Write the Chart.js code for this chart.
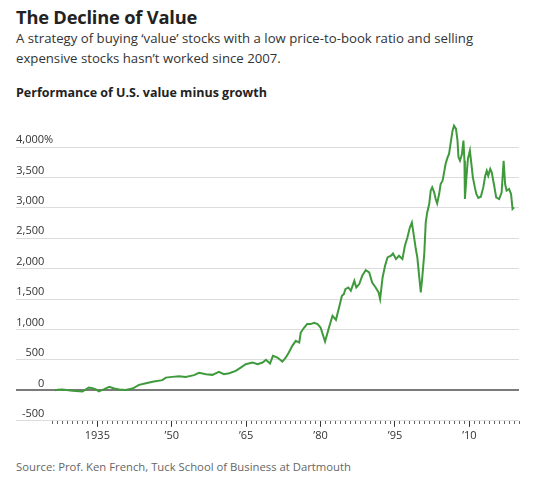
<!DOCTYPE html>
<html>
<head>
<meta charset="utf-8">
<script src="https://cdn.jsdelivr.net/npm/chart.js@4.4.1/dist/chart.umd.min.js"></script>
<style>
  html, body { margin: 0; padding: 0; background: #fff; }
  body { width: 540px; height: 480px; position: relative; overflow: hidden; font-family: "Open Sans", "Noto Sans", sans-serif; color: #222; }
  .title { position: absolute; left: 16px; top: 4px; font-size: 18.3px; font-weight: 700; letter-spacing: -0.2px; color: #222; }
  .dek { position: absolute; left: 16px; top: 28px; font-size: 13.2px; line-height: 20px; color: #333; }
  .sub { position: absolute; left: 16px; top: 84px; font-size: 12.5px; font-weight: 700; color: #222; }
  .source { position: absolute; left: 16px; top: 459px; font-size: 11.3px; color: #666; }
  #chart { position: absolute; left: 0; top: 110px; }
</style>
</head>
<body>
<div class="title">The Decline of Value</div>
<div class="dek">A strategy of buying ‘value’ stocks with a low price-to-book ratio and selling<br>expensive stocks hasn’t worked since 2007.</div>
<div class="sub">Performance of U.S. value minus growth</div>
<canvas id="chart" width="540" height="340"></canvas>
<div class="source">Source: Prof. Ken French, Tuck School of Business at Dartmouth</div>
<script>
// roughly every half year
const years = [1926.5, 1927.0, 1927.9, 1930.0, 1932.0, 1932.7, 1933.3, 1934.0, 1934.7, 1935.3,
    1936.4, 1937.4, 1938.4, 1939.4, 1940.7, 1942.1, 1943.4, 1944.8, 1946.4, 1948.1,
    1948.8, 1950.1, 1951.5, 1952.8, 1954.5, 1955.5, 1956.9, 1958.2, 1959.5, 1960.5,
    1961.6, 1962.9, 1963.9, 1964.9, 1966.3, 1967.3, 1968.3, 1969.0, 1969.8, 1970.4,
    1971.3, 1972.3, 1973.0, 1973.6, 1974.3, 1975.0, 1975.7, 1976.0, 1976.7, 1977.3,
    1978.0, 1978.7, 1979.4, 1980.0, 1980.9, 1981.7, 1982.4, 1983.1, 1983.9, 1984.3,
    1984.7, 1985.0, 1985.6, 1986.1, 1986.8, 1987.2, 1987.8, 1988.4, 1989.1, 1989.8,
    1990.4, 1991.1, 1991.7, 1992.0, 1992.5, 1993.0, 1993.5, 1994.2, 1994.6, 1995.2,
    1995.8, 1996.5, 1997.0, 1997.5, 1998.0, 1998.4, 1998.7, 1999.2, 1999.5, 1999.9,
    2000.2, 2000.5, 2000.9, 2001.2, 2001.5, 2001.9, 2002.2, 2002.5, 2002.9, 2003.2,
    2003.5, 2003.9, 2004.2, 2004.6, 2004.9, 2005.2, 2005.6, 2005.9, 2006.2, 2006.6,
    2006.9, 2007.3, 2007.6, 2007.8, 2008.1, 2008.5, 2008.8, 2009.0, 2009.1, 2009.4,
    2009.7, 2010.1, 2010.4, 2010.7, 2011.1, 2011.4, 2011.8, 2012.3, 2012.8, 2013.2,
    2013.5, 2013.8, 2014.2, 2014.5, 2015.0, 2015.4, 2016.0, 2016.5, 2016.9, 2017.2,
    2017.5, 2018.0, 2018.4, 2018.7, 2019.0];

const valueMinusGrowth = [0, 10, 13, -8, -20, 16, 46, 36, 16, -16,
    20, 58, 30, 13, 8, 30, 90, 118, 145, 168,
    210, 222, 234, 222, 250, 288, 266, 255, 304, 266,
    283, 320, 375, 431, 457, 431, 457, 502, 441, 568,
    540, 474, 540, 622, 732, 814, 786, 951, 1033, 1089,
    1089, 1110, 1089, 1033, 803, 1033, 1226, 1160, 1418, 1555,
    1582, 1665, 1691, 1637, 1801, 1691, 1747, 1884, 1977, 1938,
    1773, 1691, 1609, 1500, 1856, 2048, 2185, 2213, 2250, 2158,
    2213, 2158, 2377, 2514, 2678, 2760, 2596, 2323, 2185, 1856,
    1609, 1856, 2240, 2760, 2925, 3063, 3282, 3336, 3254, 3145,
    3073, 3227, 3392, 3446, 3583, 3721, 3830, 3885, 4050, 4269,
    4351, 4297, 4104, 3830, 3775, 3885, 4104, 3775, 3145, 3501,
    3803, 3940, 3721, 3501, 3336, 3227, 3162, 3183, 3336, 3529,
    3611, 3529, 3639, 3583, 3364, 3172, 3145, 3254, 3775, 3392,
    3282, 3310, 3227, 2981, 3007];

const yTicks = [-500, 0, 500, 1000, 1500, 2000, 2500, 3000, 3500, 4000];
const xLabelYears = [1935, 1950, 1965, 1980, 1995, 2010];
const firstTickYear = 1926;
const lastTickYear = 2020;

const tickFont = { family: '"Open Sans", "Noto Sans", sans-serif', size: 11 };

// the top label carries a '%' that hangs past the others, pad the rest with hair spaces
const measure = document.createElement('canvas').getContext('2d');
measure.font = tickFont.size + 'px ' + tickFont.family;
const pctPad = '\u200A'.repeat(Math.round(measure.measureText('%').width / measure.measureText('\u200A').width));

function yLabel(v) {
    const s = v.toLocaleString('en-US');
    return v === 4000 ? s + '%' : s + pctPad;
}

function xLabel(v) {
    if (!xLabelYears.includes(v)) return '';
    return v === 1935 ? String(v) : '\u2019' + String(v).slice(2);
}

new Chart(document.getElementById('chart'), {
    type: 'line',
    data: {
        datasets: [{
            data: years.map((yr, i) => ({ x: yr, y: valueMinusGrowth[i] })),
            borderColor: '#3f9a3c',
            borderWidth: 2,
            pointRadius: 0,
            tension: 0,
            clip: false
        }]
    },
    options: {
        responsive: false,
        animation: false,
        layout: { padding: { left: 16, right: 21, top: 37, bottom: 6 } },
        plugins: { legend: { display: false }, tooltip: { enabled: false } },
        scales: {
            x: {
                type: 'linear',
                min: 1918.6,
                max: lastTickYear,
                afterBuildTicks: axis => {
                    const t = [];
                    for (let y = firstTickYear; y <= lastTickYear; y++) t.push({ value: y });
                    axis.ticks = t;
                },
                ticks: {
                    autoSkip: false,
                    maxRotation: 0,
                    padding: 2,
                    color: '#333',
                    font: tickFont,
                    callback: v => xLabel(v)
                },
                grid: {
                    drawOnChartArea: false,
                    tickLength: 6,
                    tickWidth: 1,
                    tickColor: ctx => xLabelYears.includes(ctx.tick && ctx.tick.value) ? '#333' : '#666',
                    tickBorderDash: ctx => xLabelYears.includes(ctx.tick && ctx.tick.value) ? [] : [3, 20]
                },
                border: { display: false }
            },
            y: {
                min: -500,
                max: 4000,
                afterBuildTicks: axis => { axis.ticks = yTicks.map(v => ({ value: v })); },
                ticks: {
                    mirror: true,
                    crossAlign: 'far',
                    padding: 0,
                    labelOffset: -7,
                    color: '#333',
                    font: tickFont,
                    callback: v => yLabel(v)
                },
                grid: {
                    drawTicks: false,
                    color: ctx => ctx.tick && ctx.tick.value === 0 ? '#7a7a7a' : '#dcdcdc',
                    lineWidth: ctx => ctx.tick && ctx.tick.value === 0 ? 2 : 1
                },
                border: { display: false }
            }
        }
    }
});
</script>
</body>
</html>
